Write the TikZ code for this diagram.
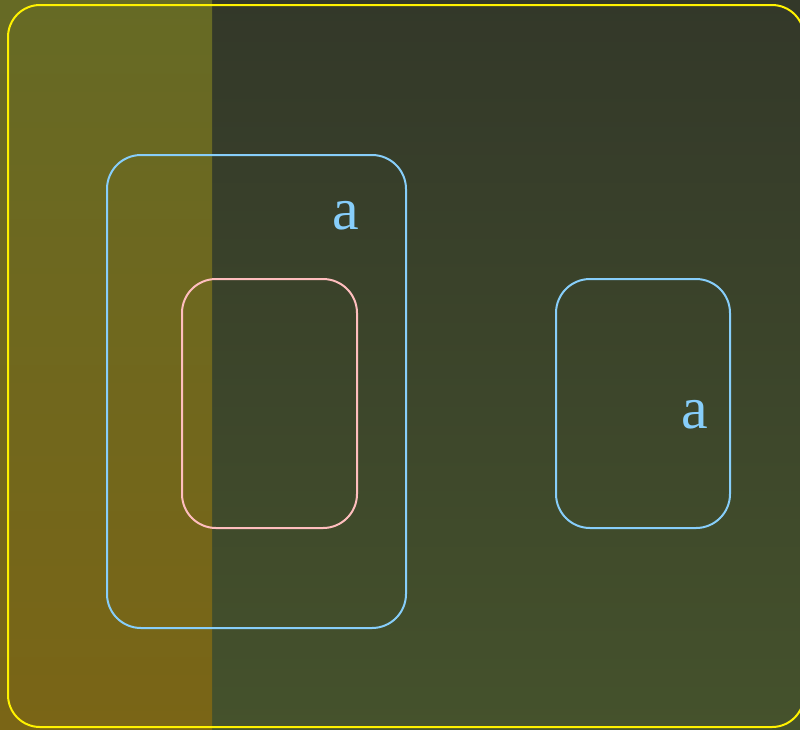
\documentclass[tikz,border=0pt]{standalone}
\usepackage{fontspec}
\setmainfont{Liberation Serif}
\definecolor{bgtop}{RGB}{51,56,41}
\definecolor{bgbot}{RGB}{69,82,44}
\definecolor{striptop}{RGB}{102,106,37}
\definecolor{stripbot}{RGB}{122,101,22}
\definecolor{setblue}{RGB}{135,206,250}
\definecolor{setpink}{RGB}{255,190,190}
\begin{document}
\begin{tikzpicture}[
    x=1pt, y=-1pt,
    setbox/.style={draw=#1, line width=2pt, rectangle, rounded corners=34pt, inner sep=0pt},
    setlabel/.style={text=setblue, inner sep=0pt, font=\fontsize{60}{60}\selectfont}
]

% Canvas and background
\clip (0,0) rectangle (800,729);
\shade[top color=bgtop, bottom color=bgbot] (0,0) rectangle (800,729);
\shade[top color=striptop, bottom color=stripbot] (0,0) rectangle (212,729);

% Universe
\node[setbox=yellow, rounded corners=32pt, minimum width=796pt, minimum height=722pt] (universe) at (406,366) {};

% Left set with its subset
\node[setbox=setblue, minimum width=299pt, minimum height=473pt] (outerset) at (256.5,391.5) {};
\node[setbox=setpink, minimum width=175pt, minimum height=249pt] (innerset) at (269.5,403.5) {};
\node[setlabel] (outerlabel) at (346,216) {a};

% Right set
\node[setbox=setblue, minimum width=174pt, minimum height=249pt] (rightset) at (643,403.5) {};
\node[setlabel] (rightlabel) at (694.5,415) {a};

\end{tikzpicture}
\end{document}
